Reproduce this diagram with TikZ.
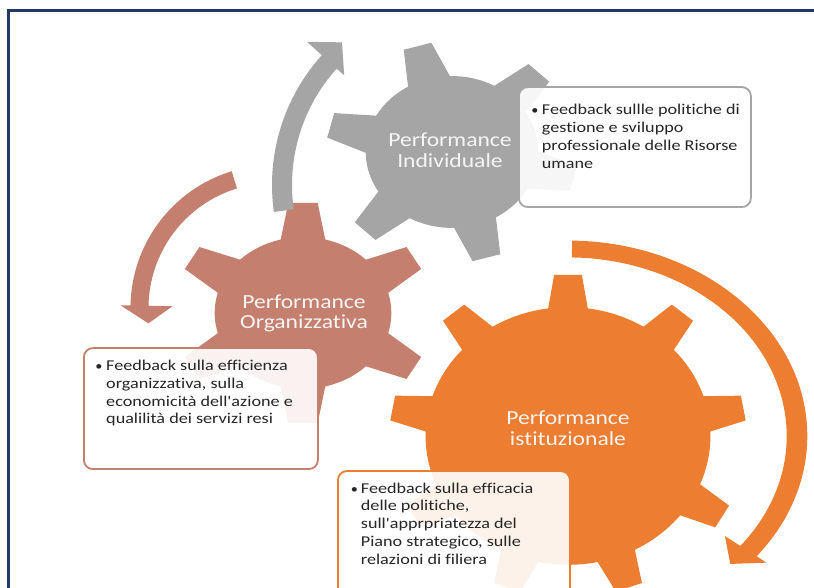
\documentclass[tikz,border=0pt]{standalone}
\usepackage{fontspec}
\setmainfont{Carlito}[Ligatures={NoCommon}]
\definecolor{gearGray}{HTML}{A5A5A5}
\definecolor{gearRed}{HTML}{C47F6F}
\definecolor{gearOrange}{HTML}{ED7D31}
\definecolor{frameBlue}{HTML}{213963}
\definecolor{bodyText}{HTML}{262626}
\definecolor{labelText}{HTML}{F5F5F5}
\tikzset{
  fbbox/.style={rounded corners=9pt, line width=1.8pt, fill=white, fill opacity=0.9, inner sep=0pt, anchor=south west},
  bodytxt/.style={font=\fontsize{15}{17.7}\selectfont, text=bodyText, inner sep=0pt, anchor=base west, xscale=1.21},
  bullettxt/.style={font=\fontsize{13}{17.7}\selectfont, text=bodyText, inner sep=0pt, anchor=base, xscale=1.1},
  geartxt/.style={font=\fontsize{20}{21}\selectfont, text=labelText, inner sep=0pt, anchor=base, xscale=1.18},
}
\newcommand{\apos}{\textquotesingle}
\begin{document}
\begin{tikzpicture}[x=1pt,y=1pt]
\useasboundingbox (0,0) rectangle (814,588);
\clip (0,0) rectangle (814,588);
\fill[white] (0,0) rectangle (814,588);

% frame
\draw[frameBlue, line width=3.5pt] (8.5,-10) -- (8.5,577.5) -- (830,577.5);

% orange gear (9 teeth)
\begin{scope}[shift={(568,152)}, xscale=178, yscale=161]
  \fill[gearOrange] (0,0) circle (0.8);
  \foreach \a in {90,130,...,410}
    \fill[gearOrange, rotate=\a] (0.72,-0.123) -- (1,-0.078) -- (1,0.078) -- (0.72,0.123) -- cycle;
\end{scope}

% red gear (6 teeth)
\begin{scope}[shift={(303,275)}, xscale=128, yscale=110]
  \fill[gearRed] (0,0) circle (0.69);
  \foreach \a in {90,150,...,390}
    \fill[gearRed, rotate=\a] (0.6,-0.186) -- (1,-0.115) -- (1,0.115) -- (0.6,0.186) -- cycle;
\end{scope}

% gray gear (6 teeth)
\begin{scope}[shift={(452,436)}, xscale=125, yscale=110]
  \fill[gearGray] (0,0) circle (0.69);
  \foreach \a in {106,166,...,406}
    \fill[gearGray, rotate=\a] (0.6,-0.186) -- (1,-0.115) -- (1,0.115) -- (0.6,0.186) -- cycle;
\end{scope}

% gray arrow
\begin{scope}[shift={(466,403)}]
  \fill[gearGray] (188:194) arc[start angle=188, end angle=138, radius=194]
    -- (138:214) -- (131:189) -- (138:164) -- (138:174)
    arc[start angle=138, end angle=188, radius=174] -- cycle;
\end{scope}

% red arrow
\begin{scope}[shift={(273.5,280)}]
  \fill[gearRed] (107:143) arc[start angle=107, end angle=179, radius=143]
    -- (179:153) -- (187:126) -- (179:101) -- (179:125)
    arc[start angle=179, end angle=107, radius=125] -- cycle;
\end{scope}

% orange arrow
\begin{scope}[shift={(568,152)}, xscale=229, yscale=187]
  \fill[gearOrange] (89:1.045) arc[start angle=89, end angle=-38, radius=1.045]
    -- (-38:1.10) -- (-44:0.985) -- (-38:0.87) -- (-38:0.955)
    arc[start angle=-38, end angle=89, radius=0.955] -- cycle;
\end{scope}

% gear labels
\node[geartxt] (gl1) at (450,441) {Performance};
\node[geartxt] (gl2) at (450,420) {Individuale};
\node[geartxt] (rl1) at (304,279) {Performance};
\node[geartxt] (rl2) at (304,259) {Organizzativa};
\node[geartxt] (ol1) at (568,163) {Performance};
\node[geartxt] (ol2) at (568,142) {istituzionale};

% text boxes
\node[fbbox, draw=gearGray, minimum width=232pt, minimum height=120pt] (boxgray) at (518,380) {};
\node[fbbox, draw=gearRed, minimum width=234pt, minimum height=121pt] (boxred) at (83,118) {};
\node[fbbox, draw=gearOrange, minimum width=232pt, minimum height=128pt] (boxorange) at (337,-12) {};

\node[bullettxt] (bg) at (535,473) {\textbullet};
\node[bodytxt] (tg) at (541.7,473) {\begin{tabular}[t]{@{}l@{}}Feedback sullle politiche di\\gestione e sviluppo\\professionale delle Risorse\\umane\end{tabular}};

\node[bullettxt] (br) at (99,217.3) {\textbullet};
\node[bodytxt] (tr) at (106,217.3) {\begin{tabular}[t]{@{}l@{}}Feedback sulla efficienza\\organizzativa, sulla\\economicità dell\apos azione e\\qualilità dei servizi resi\end{tabular}};

\node[bullettxt] (bo) at (354.5,94.7) {\textbullet};
\node[bodytxt] (to) at (360.7,94.7) {\begin{tabular}[t]{@{}l@{}}Feedback sulla efficacia\\delle politiche,\\sull\apos apprpriatezza del\\Piano strategico, sulle\\relazioni di filiera\end{tabular}};
\end{tikzpicture}
\end{document}
